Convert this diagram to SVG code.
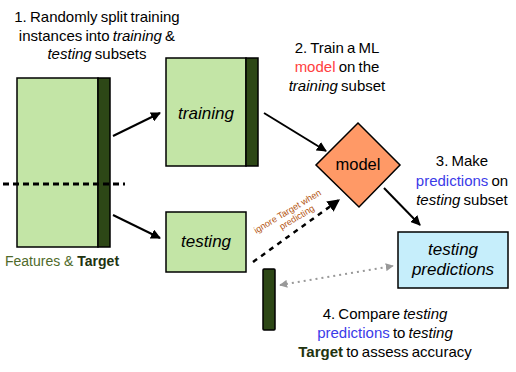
<svg xmlns="http://www.w3.org/2000/svg" width="516" height="372" viewBox="0 0 516 372">
<defs>
<marker id="ah" viewBox="0 0 10 10" refX="9" refY="5" markerWidth="5" markerHeight="5" orient="auto" markerUnits="strokeWidth">
<path d="M0,0 L10,5 L0,10 z" fill="#000"/>
</marker>
<marker id="ahg" viewBox="0 0 10 10" refX="9" refY="5" markerWidth="4" markerHeight="4" orient="auto-start-reverse" markerUnits="strokeWidth">
<path d="M0,0 L10,5 L0,10 z" fill="#999"/>
</marker>
<style>
text{font-family:"Liberation Sans",Arial,sans-serif;fill:#000}
.step{font-size:15px;text-anchor:middle;word-spacing:-1px}
.lbl{font-size:17px;font-style:italic;text-anchor:middle}
.it{font-style:italic}
.blue{fill:#3B3BE8}
.red{fill:#FF4040}
.green{fill:#C3E5A6;stroke:#000;stroke-width:1.5}
.dark{fill:#2D4716;stroke:#000;stroke-width:1.5}
.arrow{stroke:#000;stroke-width:2;fill:none;marker-end:url(#ah)}
.note{font-size:9px;text-anchor:middle;fill:#B3540F}
</style>
</defs>
<g id="dataset">
<rect class="green" x="17" y="78" width="81" height="169"/>
<rect class="dark" x="98" y="78" width="12" height="169"/>
<text x="62" y="266" style="font-size:14px;text-anchor:middle"><tspan style="fill:#4F6A2A">Features &amp; </tspan><tspan style="font-weight:bold;fill:#22330F">Target</tspan></text>
</g>
<g id="training">
<rect class="green" x="166" y="58" width="80" height="108"/>
<rect class="dark" x="246" y="58" width="12" height="108"/>
<text class="lbl" x="206" y="119">training</text>
</g>
<g id="testing">
<rect class="green" x="166" y="212" width="80" height="60"/>
<text class="lbl" x="206" y="247">testing</text>
</g>
<g id="target-bar">
<rect class="dark" x="263" y="269" width="12" height="61" rx="1"/>
</g>
<g id="model">
<path d="M358,123 L400,165 L359,207 L316,165 Z" fill="#FF9966" stroke="#000" stroke-width="1.5"/>
<text x="358" y="170" style="font-size:16.5px;text-anchor:middle">model</text>
</g>
<g id="predictions">
<rect x="398" y="232" width="110" height="56" fill="#C6EEFB" stroke="#000" stroke-width="1.5"/>
<text class="lbl" x="453" y="255">testing</text>
<text class="lbl" x="453" y="275">predictions</text>
</g>
<g id="connectors">
<line x1="3" y1="184" x2="125" y2="184" stroke="#000" stroke-width="3" stroke-dasharray="6,4"/>
<line class="arrow" x1="113" y1="136" x2="160" y2="113"/>
<line class="arrow" x1="113" y1="215" x2="160" y2="238"/>
<line class="arrow" x1="264" y1="113" x2="326" y2="151"/>
<line class="arrow" x1="384" y1="188" x2="420" y2="225"/>
<line x1="253" y1="262" x2="339" y2="200" stroke="#000" stroke-width="2.5" stroke-dasharray="5,5" fill="none" marker-end="url(#ah)"/>
<line x1="280" y1="285" x2="393" y2="266" stroke="#999" stroke-width="2" stroke-dasharray="2,4" fill="none" marker-start="url(#ahg)" marker-end="url(#ahg)"/>
</g>
<g id="note" transform="translate(289,214) rotate(-31)">
<text class="note" x="0" y="0">ignore Target when</text>
<text class="note" x="5" y="10">predicting</text>
</g>
<g id="step1">
<text class="step" x="97" y="22">1. Randomly split training</text>
<text class="step" x="97" y="41">instances into <tspan class="it">training</tspan> &amp;</text>
<text class="step" x="97" y="59"><tspan class="it">testing</tspan> subsets</text>
</g>
<g id="step2">
<text class="step" x="337" y="53">2. Train a ML</text>
<text class="step" x="337" y="72"><tspan class="red">model</tspan> on the</text>
<text class="step" x="337" y="91"><tspan class="it">training</tspan> subset</text>
</g>
<g id="step3">
<text class="step" x="462" y="166">3. Make</text>
<text class="step" x="462" y="186"><tspan class="blue">predictions</tspan> on</text>
<text class="step" x="462" y="205"><tspan class="it">testing</tspan> subset</text>
</g>
<g id="step4">
<text class="step" x="385" y="319">4. Compare <tspan class="it">testing</tspan></text>
<text class="step" x="385" y="338"><tspan class="blue">predictions</tspan> to <tspan class="it">testing</tspan></text>
<text class="step" x="385" y="357"><tspan style="font-weight:bold;fill:#22330F">Target</tspan> to assess accuracy</text>
</g>
</svg>
